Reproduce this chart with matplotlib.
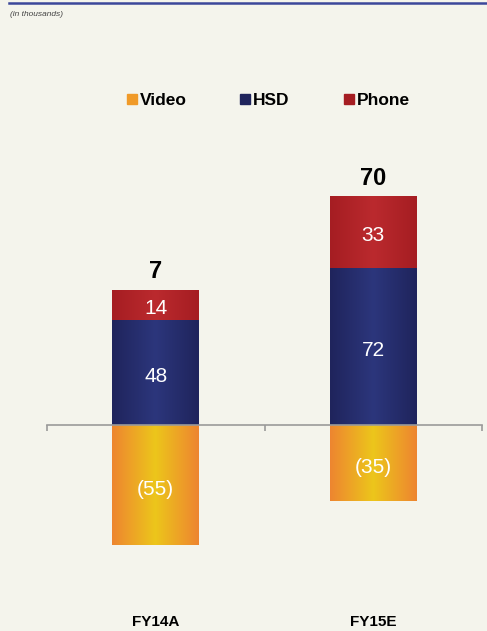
import numpy as np
import matplotlib
matplotlib.use("Agg")
import matplotlib.pyplot as plt
from matplotlib.lines import Line2D
from matplotlib.colors import LinearSegmentedColormap

plt.rcParams['font.family'] = ['Liberation Sans', 'DejaVu Sans']

# data (in thousands)
categories = ["FY14A", "FY15E"]
video = [-55, -35]
hsd = [48, 72]
phone = [14, 33]
totals = [7, 70]

bg = "#f4f4ec"
# edge / centre colours for the horizontal gradient of each series
grad = {
    "Video": ("#ee8530", "#ecc61b"),
    "HSD": ("#1f245c", "#2c367c"),
    "Phone": ("#a51d22", "#bb2a2e"),
}


def gradient_fill(ax, bars, edge, mid):
    cmap = LinearSegmentedColormap.from_list("g", [edge, mid, edge])
    img = np.linspace(0, 1, 256).reshape(1, -1)
    for b in bars:
        x0, y0 = b.get_x(), b.get_y()
        w, h = b.get_width(), b.get_height()
        im = ax.imshow(img, cmap=cmap, aspect="auto", interpolation="bicubic",
                       extent=[x0, x0 + w, y0, y0 + h], zorder=2)
        im.set_clip_path(b)
        b.set_alpha(0)


fig = plt.figure(figsize=(4.87, 6.31), dpi=100, facecolor=bg)
ax = fig.add_axes([47 / 487, 75.2 / 631, 435 / 487, 392.4 / 631])
ax.set_facecolor(bg)

x = np.arange(len(categories))
w = 0.4
b_video = ax.bar(x, video, w, color=grad["Video"][0], zorder=1)
b_hsd = ax.bar(x, hsd, w, color=grad["HSD"][0], zorder=1)
b_phone = ax.bar(x, phone, w, bottom=hsd, color=grad["Phone"][0], zorder=1)
gradient_fill(ax, b_video, *grad["Video"])
gradient_fill(ax, b_hsd, *grad["HSD"])
gradient_fill(ax, b_phone, *grad["Phone"])

ax.set_xlim(-0.5, 1.5)
ax.set_ylim(-60, 120)

# segment labels
lab = dict(color="white", ha="center", va="center_baseline", fontsize=15,
           zorder=3)
for i in range(len(categories)):
    ax.text(x[i], video[i] / 2 - 1, "({0})".format(-video[i]), **lab)
    ax.text(x[i], hsd[i] / 2 - 1, str(hsd[i]), **lab)
    ax.text(x[i], hsd[i] + phone[i] / 2 - 0.5, str(phone[i]), **lab)
    ax.text(x[i], hsd[i] + phone[i] + 3.0, str(totals[i]), color="black",
            ha="center", va="bottom", fontsize=17, fontweight="bold", zorder=3)
    ax.text(x[i], -0.168, categories[i], transform=ax.get_xaxis_transform(),
            ha="center", va="center", fontsize=11, fontweight="bold")

# axis line at zero
for s in ["top", "right", "left"]:
    ax.spines[s].set_visible(False)
ax.spines["bottom"].set_position(("data", 0))
ax.spines["bottom"].set_color("#9a9a9a")
ax.spines["bottom"].set_linewidth(1.2)
ax.spines["bottom"].set_zorder(4)
ax.set_xticks([-0.5, 0.5, 1.5])
ax.set_xticklabels([])
ax.tick_params(axis="x", direction="out", length=4, color="#9a9a9a", width=1.2)
ax.set_yticks([])

# legend
handles = [Line2D([], [], marker="s", ls="", markersize=6.5,
                  color=grad[k][0] if k != "Video" else "#f09a28")
           for k in ["Video", "HSD", "Phone"]]
leg = fig.legend(handles, ["Video", "HSD", "Phone"], loc="center",
                 bbox_to_anchor=(268 / 487, 1 - 100 / 631), ncol=3,
                 frameon=False, handlelength=0.6, handletextpad=0.15,
                 columnspacing=3.1, prop={"weight": "bold", "size": 12.5})

# header
fig.add_artist(Line2D([9 / 487, 1], [1 - 3 / 631, 1 - 3 / 631],
                      color="#3b479a", lw=1.8, transform=fig.transFigure))
fig.text(10 / 487, 1 - 14 / 631, "(in thousands)", fontsize=6,
         style="italic", color="#444444", va="center")

fig.savefig("out.png", dpi=100, facecolor=bg)
